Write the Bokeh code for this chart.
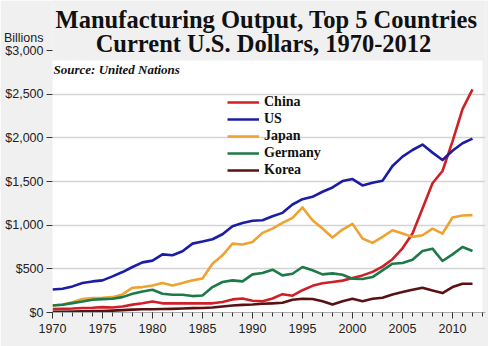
from bokeh.plotting import figure
from bokeh.models import (Label, Legend, LegendItem, NumeralTickFormatter,
                          SingleIntervalTicker, FixedTicker, Range1d)
from bokeh.embed import file_html
from bokeh.resources import INLINE

years = list(range(1970, 2013))

china = [40, 42, 45, 52, 55, 62, 58, 68, 90, 105, 125, 105, 105, 105, 105, 105, 105,
         120, 150, 160, 135, 128, 160, 210, 192, 255, 305, 335, 350, 365, 395, 425,
         465, 525, 610, 735, 905, 1190, 1480, 1620, 1960, 2330, 2555]
us = [264, 272, 299, 337, 356, 368, 414, 463, 521, 574, 594, 666, 655, 701, 789,
      812, 839, 896, 988, 1026, 1050, 1057, 1103, 1141, 1237, 1298, 1325, 1383,
      1432, 1505, 1528, 1455, 1486, 1509, 1677, 1785, 1861, 1923, 1831, 1746,
      1853, 1938, 1991]
japan = [80, 92, 118, 155, 165, 169, 176, 207, 284, 291, 310, 337, 310, 337, 368,
         390, 559, 655, 789, 778, 808, 912, 961, 1026, 1084, 1203, 1057, 961, 858,
         950, 1015, 847, 797, 866, 942, 904, 866, 885, 961, 904, 1088, 1111, 1115]
germany = [80, 88, 107, 126, 146, 153, 157, 176, 214, 241, 261, 214, 203, 203, 188,
           195, 291, 349, 368, 356, 437, 452, 490, 425, 444, 521, 483, 437, 448,
           433, 387, 383, 406, 483, 559, 567, 605, 705, 731, 590, 666, 751, 705]
korea = [8, 9, 10, 13, 16, 18, 22, 27, 33, 37, 38, 40, 42, 45, 50, 52, 58, 68, 80,
         87, 92, 100, 105, 112, 146, 157, 155, 130, 92, 130, 157, 130, 157, 169,
         207, 234, 261, 284, 253, 222, 291, 329, 329]

series_names = ["China", "US", "Japan", "Germany", "Korea"]
series_values = [china, us, japan, germany, korea]
colors = ["#cf2027", "#1c1ca6", "#eea232", "#1d7a48", "#5a1114"]

y_ticks = [0, 500, 1000, 1500, 2000, 2500, 3000]
grid_ticks = [0, 500, 1000, 1500, 2000, 2500]

title1 = "Manufacturing Output, Top 5 Countries"
title2 = "Current U.S. Dollars, 1970-2012"
unit_label = "Billions"
source_label = "Source: United Nations"

BG = "#f0f0f0"

p = figure(width=488, height=346, output_backend="svg", toolbar_location=None,
           x_range=Range1d(1970, 2013.3), y_range=Range1d(0, 3573),
           min_border_left=51, min_border_right=3, min_border_top=0,
           min_border_bottom=34)
p.background_fill_color = BG
p.border_fill_color = BG
p.outline_line_color = None

# white plotting area
p.quad(left=[1970], right=[2013.0], bottom=[0], top=[2886],
       fill_color="white", line_color=None, level="image")

renderers = []
for name, vals, col in zip(series_names, series_values, colors):
    r = p.line(years, vals, line_color=col, line_width=2.6, line_join="round")
    renderers.append((name, r))

legend = Legend(items=[LegendItem(label=n, renderers=[r]) for n, r in renderers],
                location=(175, 134), orientation="vertical")
legend.background_fill_alpha = 0
legend.border_line_color = None
legend.padding = 0
legend.margin = 0
legend.spacing = 1
legend.glyph_width = 32
legend.glyph_height = 14
legend.label_height = 14
legend.label_standoff = 5
legend.label_text_font = "Liberation Serif"
legend.label_text_font_style = "bold"
legend.label_text_font_size = "14px"
legend.label_text_color = "#111111"
p.add_layout(legend, "center")

# axes
p.xaxis.ticker = SingleIntervalTicker(interval=5, num_minor_ticks=5)
p.xaxis.axis_line_color = "#aaaaaa"
p.xaxis.major_tick_line_color = "#333333"
p.xaxis.minor_tick_line_color = "#333333"
p.xaxis.major_tick_out = 6
p.xaxis.major_tick_in = 0
p.xaxis.minor_tick_out = 4
p.xaxis.minor_tick_in = 0
p.xaxis.major_label_text_font = "Liberation Sans"
p.xaxis.major_label_text_font_size = "12.5px"
p.xaxis.major_label_text_color = "#222222"
p.xaxis.major_label_standoff = 5

# the unit caption sits in the y-axis label column, above the $3,000 tick
unit_pos = 3149
p.yaxis.ticker = FixedTicker(ticks=y_ticks + [unit_pos], minor_ticks=y_ticks)
p.yaxis.formatter = NumeralTickFormatter(format="$0,0")
p.yaxis.major_label_overrides = {unit_pos: unit_label}
p.yaxis.axis_line_color = None
p.yaxis.major_tick_line_color = None
p.yaxis.minor_tick_line_color = "#333333"
p.yaxis.major_tick_out = 6
p.yaxis.major_tick_in = 0
p.yaxis.minor_tick_out = 6
p.yaxis.minor_tick_in = 0
p.yaxis.major_label_text_font = "Liberation Sans"
p.yaxis.major_label_text_font_size = "12.5px"
p.yaxis.major_label_text_color = "#222222"
p.yaxis.major_label_standoff = 3

p.xgrid.grid_line_color = None
p.ygrid.ticker = FixedTicker(ticks=grid_ticks)
p.ygrid.grid_line_color = "#d4d4d4"
p.ygrid.grid_line_width = 1.5

# titles and notes
p.add_layout(Label(x=1991.4, y=3355, text=title1, text_align="center",
                   text_baseline="alphabetic", text_font="Liberation Serif",
                   text_font_style="bold", text_font_size="24.5px",
                   text_color="#111111"))
p.add_layout(Label(x=1991.1, y=3075, text=title2, text_align="center",
                   text_baseline="alphabetic", text_font="Liberation Serif",
                   text_font_style="bold", text_font_size="24.5px",
                   text_color="#111111"))
p.add_layout(Label(x=1970.1, y=2788, text=source_label, text_align="left",
                   text_baseline="alphabetic", text_font="Liberation Serif",
                   text_font_style="bold italic", text_font_size="13px",
                   text_color="#111111"))

open("out.html", "w").write(file_html(p, INLINE))
